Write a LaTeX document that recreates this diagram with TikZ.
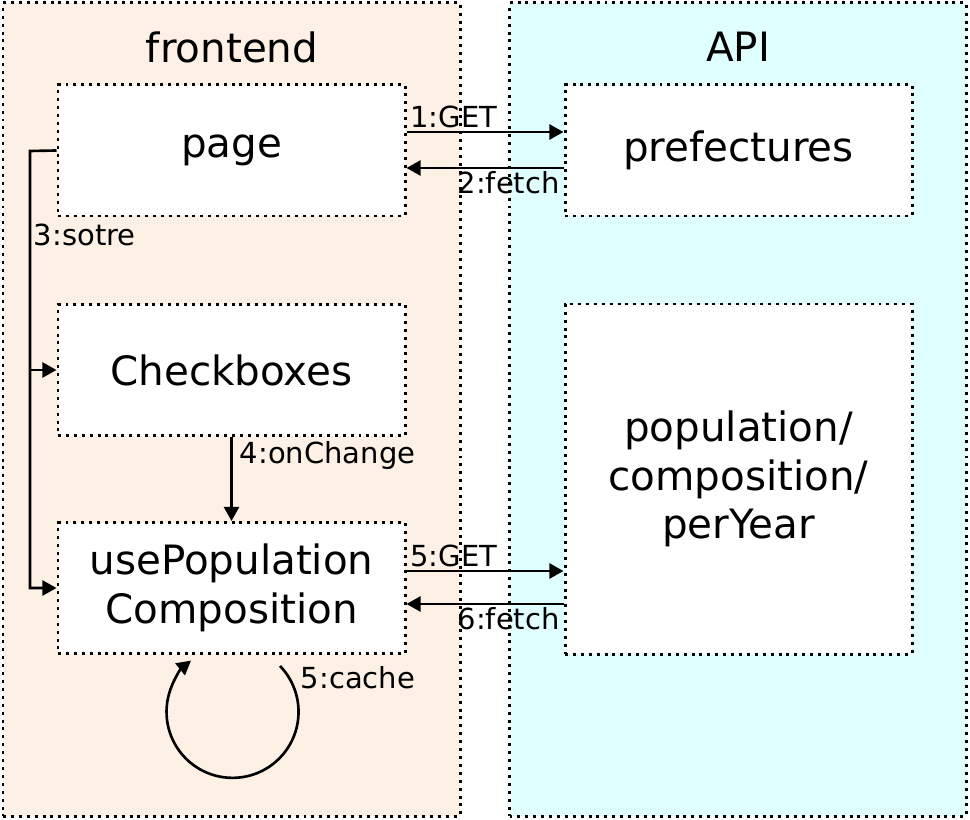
\documentclass[tikz,border=0pt]{standalone}
\usepackage{fontspec}
\setmainfont{DejaVu Sans}
\usetikzlibrary{arrows.meta}
\definecolor{frontfill}{RGB}{253,240,228}
\definecolor{apifill}{RGB}{224,255,255}
\begin{document}
\begin{tikzpicture}[x=0.2mm, y=-0.2mm, line width=1.5pt,
    dots/.style={draw, line width=1.7pt, dash pattern=on 1.7pt off 2.8pt},
    frame/.style={dots, minimum width=91.4mm, minimum height=162.6mm, inner sep=0pt},
    box/.style={dots, fill=white, minimum width=69.4mm, minimum height=26.2mm, align=center, font=\fontsize{23}{27.6}\selectfont},
    title/.style={font=\fontsize{23}{27.6}\selectfont},
    lbl/.style={font=\fontsize{16.5}{19.8}\selectfont, inner sep=1.5pt},
    ar/.style={-{Triangle[length=8pt, width=8.5pt]}}]
      \useasboundingbox (0,0) rectangle (970,820);
      \node[frame, fill=frontfill] (front) at (231.5,409.5) {};
      \node[frame, fill=apifill] (api) at (738,409.5) {};
      \node[title] (fronttitle) at (232,47) {frontend};
      \node[title] (apititle) at (738,47) {API};

      \node[box] (page) at (231.5,150.5) {page};
      \node[box] (checks) at (231.5,370) {Checkboxes};
      \node[box] (usepop) at (231.5,588) {usePopulation\\Composition};
      \node[box] (pref) at (738.5,150.5) {prefectures};
      \node[box, minimum height=70mm] (popcomp) at (738.5,479) {population/\\composition/\\perYear};

      \draw[ar] (page.east |- 0,132) -- (pref.west |- 0,132) node[lbl, at start, anchor=south west] {1:GET};
      \draw[ar] (pref.west |- 0,168) -- (page.east |- 0,168) node[lbl, at start, anchor=north east] {2:fetch};
      \draw[ar] (page.west) -- (30,151) |- (usepop.west);
      \draw[ar] (30,370) -- (checks.west);
      \node[lbl, anchor=west] (storelbl) at (30,235) {3:sotre};
      \draw[ar] (checks.south) -- (usepop.north);
      \node[lbl, anchor=west] (changelbl) at (236,455) {4:onChange};
      \draw[ar] (usepop.east |- 0,571) -- (popcomp.west |- 0,571) node[lbl, at start, anchor=south west] {5:GET};
      \draw[ar] (popcomp.west |- 0,604) -- (usepop.east |- 0,604) node[lbl, at start, anchor=north east] {6:fetch};
      \draw[ar] ([xshift=9.7mm, yshift=-2.2mm]usepop.south) arc[start angle=44, end angle=-231, radius=13.2mm];
      \node[lbl, anchor=west] (cachelbl) at (297,678) {5:cache};
    \end{tikzpicture}
\end{document}
